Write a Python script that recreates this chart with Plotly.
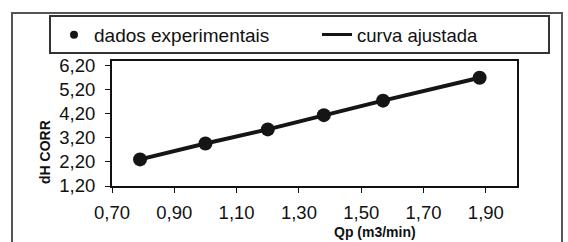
import plotly.graph_objects as go

# ---- data ----
qp = [0.79, 1.00, 1.20, 1.38, 1.57, 1.88]
dh_corr = [2.30, 2.96, 3.54, 4.13, 4.73, 5.68]
fit_y = [2.30, 2.96, 3.54, 4.13, 4.73, 5.68]
x_ticks = [0.70, 0.90, 1.10, 1.30, 1.50, 1.70, 1.90]
y_ticks = [1.20, 2.20, 3.20, 4.20, 5.20, 6.20]
series_names = ["dados experimentais", "curva ajustada"]
x_title = "Qp (m3/min)"
y_title = "dH CORR"

W, H = 568, 242
L, R, T, B = 112, 517, 61, 186

def px(x):
    return (x - L) / (R - L)

def py(y):
    return (B - y) / (B - T)

FONT = "Liberation Sans, Arial, sans-serif"
FS = 18.5

fig = go.Figure()
# fitted line
fig.add_trace(go.Scatter(x=qp, y=fit_y, mode="lines", name=series_names[1],
                         line=dict(color="#151515", width=4), showlegend=False))
# experimental points
fig.add_trace(go.Scatter(x=qp, y=dh_corr, mode="markers", name=series_names[0],
                         marker=dict(color="#151515", size=14), showlegend=False))
# legend entries
fig.add_trace(go.Scatter(x=[None], y=[None], mode="markers", name=series_names[0],
                         marker=dict(color="#151515", size=8), legend="legend"))
fig.add_trace(go.Scatter(x=[None], y=[None], mode="lines", name=series_names[1],
                         line=dict(color="#151515", width=3), legend="legend2"))

shapes = [
    # outer frame
    dict(type="rect", xref="paper", yref="paper", x0=px(12), x1=px(562), y0=py(260), y1=py(13),
         line=dict(color="#555555", width=2), layer="below"),
    # legend box
    dict(type="rect", xref="paper", yref="paper", x0=px(50), x1=px(549), y0=py(53), y1=py(16),
         line=dict(color="#333333", width=2), layer="below"),
]

annotations = [
    dict(text=f"<b>{y_title}</b>", xref="paper", yref="paper", x=px(45), y=py(152),
         textangle=-90, showarrow=False, font=dict(family=FONT, size=14, color="#111"),
         xanchor="center", yanchor="middle"),
    dict(text=f"<b>{x_title}</b>", xref="paper", yref="paper", x=px(375), y=py(232),
         showarrow=False, font=dict(family=FONT, size=14, color="#111"),
         xanchor="center", yanchor="middle"),
]

fig.update_layout(
    width=W, height=H,
    margin=dict(l=L, r=W - R, t=T, b=H - B, autoexpand=False),
    paper_bgcolor="white", plot_bgcolor="white",
    separators=",.",
    font=dict(family=FONT, size=FS, color="#111"),
    shapes=shapes, annotations=annotations,
    legend=dict(x=px(54), y=py(35), xanchor="left", yanchor="middle", itemwidth=30,
                bgcolor="rgba(0,0,0,0)", font=dict(family=FONT, size=19, color="#111")),
    legend2=dict(x=px(317), y=py(35), xanchor="left", yanchor="middle",
                 bgcolor="rgba(0,0,0,0)", font=dict(family=FONT, size=FS, color="#111")),
    xaxis=dict(range=[0.70, 2.00], tickvals=x_ticks, tickformat=".2f",
               showgrid=False, zeroline=False, showline=True, mirror=True,
               linecolor="#111", linewidth=2, ticks="outside", ticklen=5,
               tickcolor="#111", tickwidth=1, ticklabelstandoff=4),
    yaxis=dict(range=[1.20, 6.37], tickvals=y_ticks, tickformat=".2f",
               showgrid=False, zeroline=False, showline=True, mirror=True,
               linecolor="#111", linewidth=2, ticks="outside", ticklen=5,
               tickcolor="#111", tickwidth=1, ticklabelstandoff=6),
)

fig.write_html("out.html", config={"displayModeBar": False},
               post_script="document.body.style.margin='0';document.body.style.padding='0';")
